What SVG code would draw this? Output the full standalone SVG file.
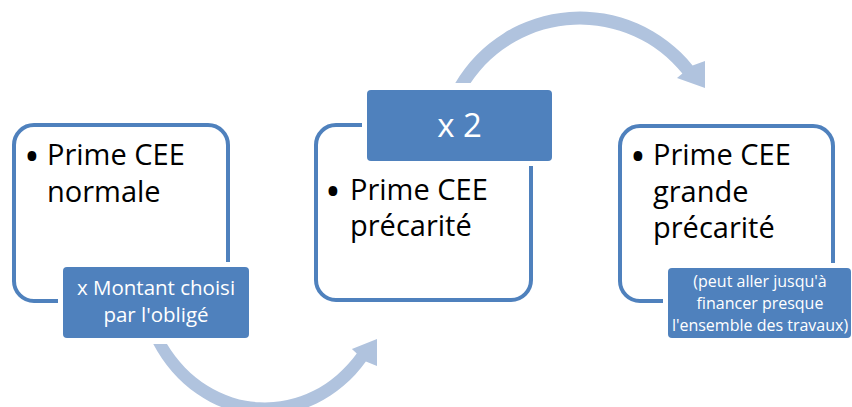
<svg xmlns="http://www.w3.org/2000/svg" width="852" height="407" viewBox="0 0 852 407">
<style>
.frame{fill:#ffffff;stroke:#4f81bd;stroke-width:4}
.gap{fill:#ffffff}
.lab{fill:#4f81bd}
.t{font-family:"Open Sans","Liberation Sans",sans-serif;fill:#000000;font-size:29px}
.b{font-family:"Open Sans","Liberation Sans",sans-serif;fill:#000000;font-size:42px}
.w{font-family:"Open Sans","Liberation Sans",sans-serif;fill:#ffffff;text-anchor:middle}
.arrow{fill:#b0c3de}
</style>
<defs>
<path id="arc" d="M -124.7 -73 A 144.5 144.5 0 0 1 112.6 -90.5 L 125 -95 L 125 -68 L 97 -78 L 102.4 -82.4 A 131.5 131.5 0 0 0 -109.4 -73 Z"/>
</defs>
<g id="connectors">
<use href="#arc" class="arrow" transform="translate(580,156)"/>
<use href="#arc" class="arrow" transform="translate(265,271) scale(0.896,-1)"/>
</g>
<g id="node1">
<rect class="frame" x="14" y="125" width="214" height="176" rx="20"/>
<text class="b" x="24" y="171">•</text>
<text class="t" x="47" y="165">Prime CEE</text>
<text class="t" x="47" y="202">normale</text>
</g>
<g id="label1">
<rect class="gap" x="58" y="262" width="196" height="81" rx="8"/>
<rect class="lab" x="63" y="267" width="186" height="71" rx="4"/>
<text class="w" x="156" y="295" font-size="20.5">x Montant choisi</text>
<text class="w" x="156" y="322" font-size="20.5">par l'obligé</text>
</g>
<g id="node2">
<rect class="frame" x="316" y="125" width="215" height="175" rx="20"/>
<text class="b" x="325" y="206">•</text>
<text class="t" x="350" y="200">Prime CEE</text>
<text class="t" x="350" y="236">précarité</text>
</g>
<g id="label2">
<rect class="gap" x="362" y="85" width="195" height="81" rx="8"/>
<rect class="lab" x="367" y="90" width="185" height="71" rx="4"/>
<text class="w" x="459.5" y="137" font-size="33">x 2</text>
</g>
<g id="node3">
<rect class="frame" x="620" y="126" width="213" height="175" rx="20"/>
<text class="b" x="630" y="171">•</text>
<text class="t" x="653" y="165">Prime CEE</text>
<text class="t" x="653" y="202">grande</text>
<text class="t" x="653" y="238">précarité</text>
</g>
<g id="label3">
<rect class="gap" x="663" y="263" width="196" height="80" rx="8"/>
<rect class="lab" x="668" y="268" width="183" height="70" rx="4"/>
<text class="w" x="760" y="287" font-size="16">(peut aller jusqu'à</text>
<text class="w" x="760" y="309" font-size="16">financer presque</text>
<text class="w" x="760" y="331" font-size="16">l'ensemble des travaux)</text>
</g>
</svg>
